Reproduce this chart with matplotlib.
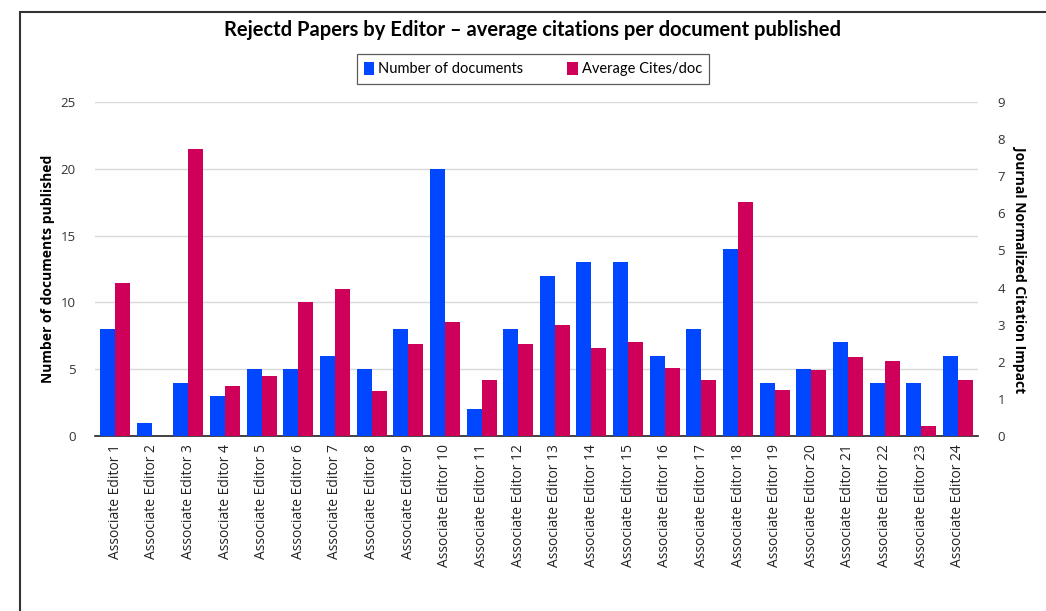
import matplotlib
matplotlib.use("Agg")
import matplotlib.pyplot as plt
import numpy as np
from matplotlib.patches import Rectangle

# data
editors = ["Associate Editor %d" % i for i in range(1, 25)]
num_docs = [8, 1, 4, 3, 5, 5, 6, 5, 8, 20, 2, 8, 12, 13, 13, 6, 8, 14, 4, 5, 7, 4, 4, 6]
avg_cites = [4.11, 0, 7.73, 1.34, 1.61, 3.62, 3.97, 1.20, 2.49, 3.08, 1.51, 2.49,
             3.00, 2.36, 2.54, 1.83, 1.52, 6.30, 1.25, 1.79, 2.14, 2.01, 0.26, 1.52]

blue = "#0047ff"
red = "#cf005a"

fig = plt.figure(figsize=(10.46, 6.11), dpi=100)
ax = fig.add_axes([95 / 1046, 1 - 436 / 611, 883 / 1046, 334 / 611])
ax2 = ax.twinx()

x = np.arange(len(editors))
w = 0.41
ax.bar(x - w / 2, num_docs, w, color=blue, linewidth=0,
       label="Number of documents", zorder=3)
ax2.bar(x + w / 2, avg_cites, w, color=red, linewidth=0,
        label="Average Cites/doc", zorder=3)

ax.set_xlim(-0.55, len(editors) - 0.45)
ax.set_ylim(0, 25)
ax2.set_ylim(0, 9)
ax.set_yticks(range(0, 26, 5))
ax2.set_yticks(range(0, 10))
ax.yaxis.grid(True, color="#d9d9d9", linewidth=1)
ax.set_axisbelow(True)

for a in (ax, ax2):
    for s in a.spines.values():
        s.set_visible(False)
    a.tick_params(length=0, labelsize=9.5, labelcolor="#333333", pad=14)
ax.spines["bottom"].set_visible(True)
ax.spines["bottom"].set_color("#222222")
ax.spines["bottom"].set_linewidth(1.2)

tick_font = "Open Sans"
ax.set_xticks(x)
ax.set_xticklabels(editors, rotation=90, fontsize=10, family=tick_font, color="#222222")
ax.tick_params(axis="x", pad=6)
for lab in ax.get_yticklabels() + ax2.get_yticklabels():
    lab.set_family(tick_font)

ax.set_ylabel("Number of documents published", fontsize=10, fontweight="bold",
              family=tick_font, labelpad=4)
ax2.set_ylabel("Journal Normalized Citation Impact", fontsize=10, fontweight="bold",
               family=tick_font, rotation=270, labelpad=16)

fig.text(533 / 1046, 1 - 30 / 611,
         "Rejectd Papers by Editor \u2013 average citations per document published",
         ha="center", va="center", fontsize=14.5, fontweight="bold", family="Lato")

h1, l1 = ax.get_legend_handles_labels()
h2, l2 = ax2.get_legend_handles_labels()
leg = fig.legend(h1 + h2, l1 + l2, loc="center", bbox_to_anchor=(533 / 1046, 1 - 69 / 611),
                 ncol=2, frameon=True, fancybox=False, edgecolor="#333333",
                 prop={"family": "Lato", "size": 10.5}, handlelength=0.7, handleheight=1.0,
                 handletextpad=0.3, columnspacing=3.0, borderpad=0.5, borderaxespad=0)
leg.get_frame().set_linewidth(0.9)
leg._legend_box.sep = 0

# outer frame (top and left edges visible)
fig.patches.append(Rectangle((20 / 1046, -0.1), 1.2, 1 - 12 / 611 + 0.1,
                             transform=fig.transFigure, fill=False,
                             edgecolor="#333333", linewidth=1.5))

fig.savefig("out.png", dpi=100)
